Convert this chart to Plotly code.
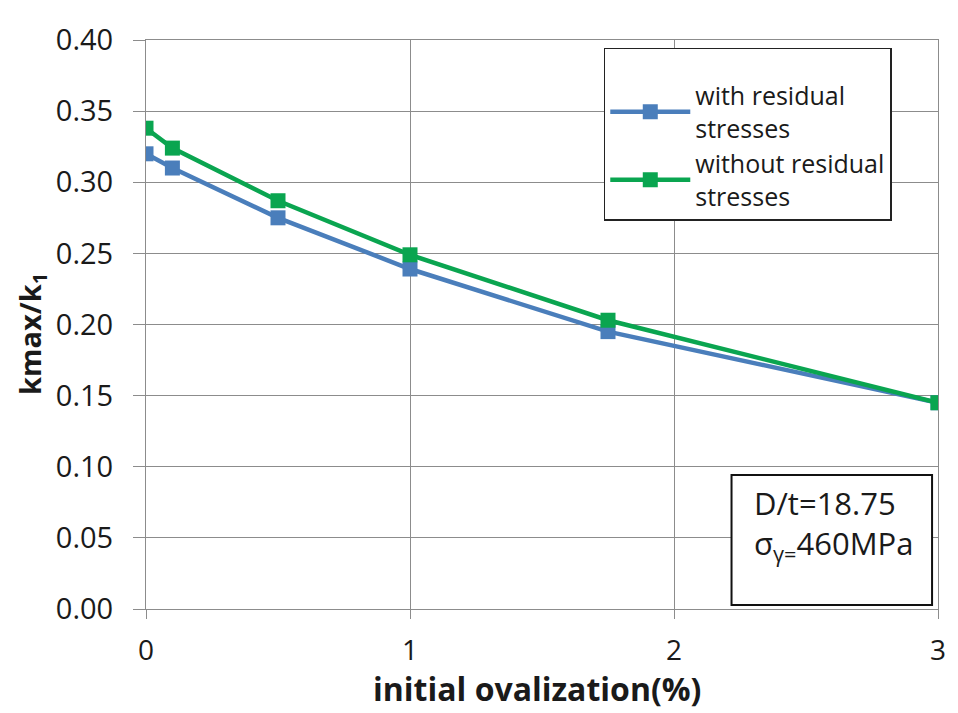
import plotly.graph_objects as go

# Initial ovalization (%) and normalised max curvature
ovalization = [0, 0.1, 0.5, 1.0, 1.75, 3.0]
with_rs = [0.320, 0.310, 0.275, 0.239, 0.195, 0.145]
without_rs = [0.338, 0.324, 0.287, 0.249, 0.203, 0.145]

x_ticks = [0, 1, 2, 3]
y_ticks = [0.00, 0.05, 0.10, 0.15, 0.20, 0.25, 0.30, 0.35, 0.40]

BLUE = "#4A7EBB"
GREEN = "#0AA550"
GRID = "#8C8C8C"
FONT = "'Open Sans', Lato, sans-serif"
INK = "#1a1a1a"

fig = go.Figure()
fig.add_trace(go.Scatter(
    x=ovalization, y=with_rs, mode="lines+markers",
    name="with residual<br>stresses", legendgroup="a",
    line=dict(color=BLUE, width=4.5),
    marker=dict(symbol="square", size=15, color=BLUE),
))
fig.add_trace(go.Scatter(
    x=ovalization, y=without_rs, mode="lines+markers",
    name="without residual<br>stresses", legendgroup="b",
    line=dict(color=GREEN, width=4.5),
    marker=dict(symbol="square", size=15, color=GREEN),
))

# parameter box in the lower right corner
fig.add_shape(
    type="rect", xref="paper", yref="paper",
    x0=0.7393, x1=0.9925, y0=0.007, y1=0.2355,
    line=dict(color="#111111", width=2), fillcolor="white", layer="above",
)
fig.add_annotation(
    xref="paper", yref="paper", x=0.7657, y=0.148,
    xanchor="left", yanchor="middle", align="left",
    text="D/t=18.75<br>σ<sub>γ=</sub>460MPa",
    showarrow=False, font=dict(family=FONT, size=31, color=INK),
)

# axis titles
fig.add_annotation(
    xref="paper", yref="paper", x=0.494, y=-0.14,
    xanchor="center", yanchor="middle", showarrow=False,
    text="<b>initial ovalization(%)</b>",
    font=dict(family=FONT, size=32, color=INK),
)
fig.add_annotation(
    xref="paper", yref="paper", x=-0.1454, y=0.483,
    xanchor="center", yanchor="middle", showarrow=False, textangle=-90,
    text="<b>kmax/k<sub>1</sub></b>",
    font=dict(family=FONT, size=29, color=INK),
)

fig.update_layout(
    width=958, height=713,
    margin=dict(l=146, r=14, t=40, b=104),
    paper_bgcolor="white", plot_bgcolor="white",
    font=dict(family=FONT, color=INK),
    showlegend=True,
    legend=dict(
        x=0.578, y=0.986, xanchor="left", yanchor="top",
        bordercolor="#222222", borderwidth=1.5, bgcolor="white",
        font=dict(family=FONT, size=25, color=INK),
        title=dict(text=" ", font=dict(size=18)),
        traceorder="grouped", tracegroupgap=0, itemwidth=80,
    ),
    xaxis=dict(
        range=[0, 3], tickvals=x_ticks, ticktext=[str(v) for v in x_ticks],
        showgrid=True, gridcolor=GRID, gridwidth=1, zeroline=False,
        showline=True, linecolor=GRID, mirror=True,
        ticks="outside", ticklen=9, tickcolor=GRID,
        ticklabelstandoff=7,
        tickfont=dict(family=FONT, size=28, color=INK),
    ),
    yaxis=dict(
        range=[0, 0.40], tickvals=y_ticks, tickformat=".2f",
        showgrid=True, gridcolor=GRID, gridwidth=1, zeroline=False,
        showline=True, linecolor=GRID, mirror=True,
        ticks="outside", ticklen=12, tickcolor=GRID,
        ticklabelstandoff=14,
        tickfont=dict(family=FONT, size=29, color=INK),
    ),
)

fig.write_html("out.html")
